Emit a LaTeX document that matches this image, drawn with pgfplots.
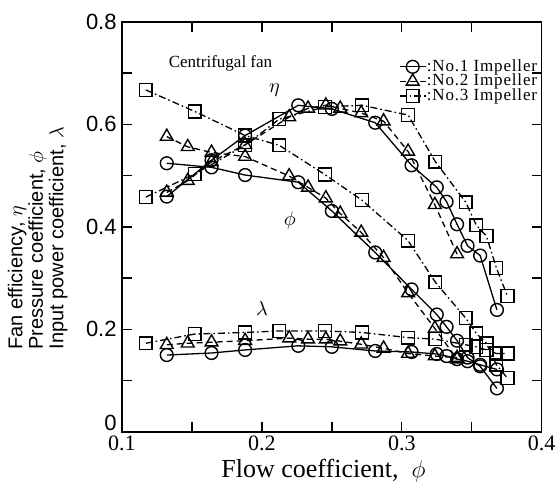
\documentclass[border=0pt]{standalone}
\usepackage{fontspec}
\setmainfont{Liberation Serif}
\newfontfamily\arial{Liberation Sans}
\newfontfamily\legfont[LetterSpace=5]{Liberation Serif}
\usepackage{pgfplots}
\pgfplotsset{compat=1.18}
\usepackage{pgfplotstable}

% No.1 Impeller
\pgfplotstableread{
x      eta    psi    lam
0.132  0.459  0.524  0.150
0.164  0.530  0.516  0.154
0.188  0.578  0.501  0.160
0.226  0.637  0.487  0.168
0.250  0.630  0.431  0.166
0.281  0.603  0.350  0.158
0.307  0.520  0.278  0.156
0.325  0.477  0.229  0.152
0.332  0.449  0.205  0.148
0.3395 0.405  0.178  0.142
0.347  0.363  0.145  0.138
0.356  0.344  0.128  0.131
0.368  0.238  0.085  0.122
}\one

% No.2 Impeller
\pgfplotstableread{
x      eta    psi    lam
0.132  0.467  0.576  0.170
0.147  0.490  0.556  0.173
0.164  0.527  0.545  0.175
0.188  0.560  0.537  0.178
0.2195 0.614  0.499  0.183
0.233  0.631  0.477  0.181
0.2457 0.637  0.456  0.181
0.256  0.631  0.426  0.177
0.271  0.622  0.389  0.171
0.287  0.606  0.340  0.163
0.3045 0.547  0.271  0.153
0.3236 0.443  0.202  0.148
0.3395 0.347  0.142  0.145
}\two

% No.3 Impeller
\pgfplotstableread{
x      eta    psi    lam
0.117  0.458  0.667  0.173
0.152  0.503  0.625  0.191
0.188  0.559  0.578  0.194
0.2124 0.610  0.559  0.197
0.245  0.634  0.502  0.197
0.2715 0.637  0.452  0.194
0.3045 0.618  0.373  0.184
0.324  0.527  0.292  0.181
0.3457 0.448  0.222  0.170
0.3533 0.403  0.192  0.166
0.3605 0.382  0.173  0.160
0.3676 0.320  0.131  0.153
0.3755 0.265  0.105  0.153
}\three

\pgfplotsset{
  s1/.style={black, line width=0.65pt, solid, mark=o, mark size=3.2pt,
    mark options={solid, fill=white, line width=0.7pt}},
  s2/.style={black, line width=0.65pt, dash pattern=on 3pt off 2pt, mark=triangle, mark size=3.7pt,
    mark options={solid, fill=white, line width=0.7pt}},
  s3/.style={black, line width=0.65pt, dash pattern=on 3.5pt off 1.5pt on 0.8pt off 1.5pt, mark=square, mark size=3.2pt,
    mark options={solid, fill=white, line width=0.7pt}},
}

\begin{document}
\begin{tikzpicture}
\begin{axis}[
  name=ax,
  scale only axis,
  width=209.85pt, height=205.15pt,
  xmin=0.1, xmax=0.4, ymin=0, ymax=0.8,
  xtick={0.1,0.2,0.3,0.4},
  minor xtick={0.15,0.25,0.35},
  ytick={0.2,0.4,0.6,0.8},
  extra y ticks={0},
  extra y tick style={yticklabel style={yshift=4.5pt}},
  minor ytick={0.1,0.3,0.5,0.7},
  tick align=inside,
  major tick length=5pt, minor tick length=5pt,
  tick style={black, line width=0.7pt},
  axis line style={line width=0.8pt},
  /pgf/number format/assume math mode=true,
  /pgf/number format/fixed,
  xticklabel style={font=\fontsize{11}{11}\selectfont, inner sep=1.5pt},
  yticklabel style={font=\arial\fontsize{11}{11}\selectfont, inner sep=1pt, xshift=-1.5pt},
  xlabel={Flow coefficient,\ \ $\phi$},
  xlabel style={font=\fontsize{13}{13}\selectfont, at={(axis description cs:0.48,0)}, anchor=north, yshift=-10pt},
  ylabel={Fan efficiency, $\eta$\\Pressure coefficient, $\phi$\\Input power coefficient, $\lambda$},
  ylabel style={font=\arial\fontsize{10}{7}\selectfont, align=left, inner sep=0pt,
    at={(axis description cs:-0.129,0.2)}, anchor=south west},
  legend style={draw=none, fill=none, at={(axis description cs:0.991,0.91)}, anchor=north east,
    font=\legfont\fontsize{8.5}{8.5}\selectfont, row sep=-0.5pt, inner sep=0pt, nodes={inner sep=0.2pt}},
  legend cell align=left,
  legend image code/.code={\draw[mark repeat=2,mark phase=2,#1] plot coordinates {(0cm,0cm) (0.23cm,0cm) (0.46cm,0cm)};},
]
\addplot[s1] table[x=x,y=eta]{\one};
\addlegendentry{:No.1 Impeller}
\addplot[s2] table[x=x,y=eta]{\two};
\addlegendentry{:No.2 Impeller}
\addplot[s3] table[x=x,y=eta]{\three};
\addlegendentry{:No.3 Impeller}

\addplot[s1, forget plot] table[x=x,y=psi]{\one};
\addplot[s2, forget plot] table[x=x,y=psi]{\two};
\addplot[s3, forget plot] table[x=x,y=psi]{\three};

\addplot[s1, forget plot] table[x=x,y=lam]{\one};
\addplot[s2, forget plot] table[x=x,y=lam]{\two};
\addplot[s3, forget plot] table[x=x,y=lam]{\three};

\node[anchor=west, font=\fontsize{8.5}{8.5}\selectfont] at (axis cs:0.1284,0.719) {Centrifugal fan};
\node[font=\fontsize{10}{10}\selectfont] at (axis cs:0.209,0.667) {$\eta$};
\node[font=\fontsize{10}{10}\selectfont] at (axis cs:0.22,0.413) {$\phi$};
\node[font=\fontsize{10}{10}\selectfont] at (axis cs:0.2,0.241) {$\lambda$};
\end{axis}
\pgfresetboundingbox
\path ([xshift=-61pt,yshift=-30.5pt]ax.south west) rectangle ([xshift=8.15pt,yshift=10.85pt]ax.north east);
\end{tikzpicture}
\end{document}
